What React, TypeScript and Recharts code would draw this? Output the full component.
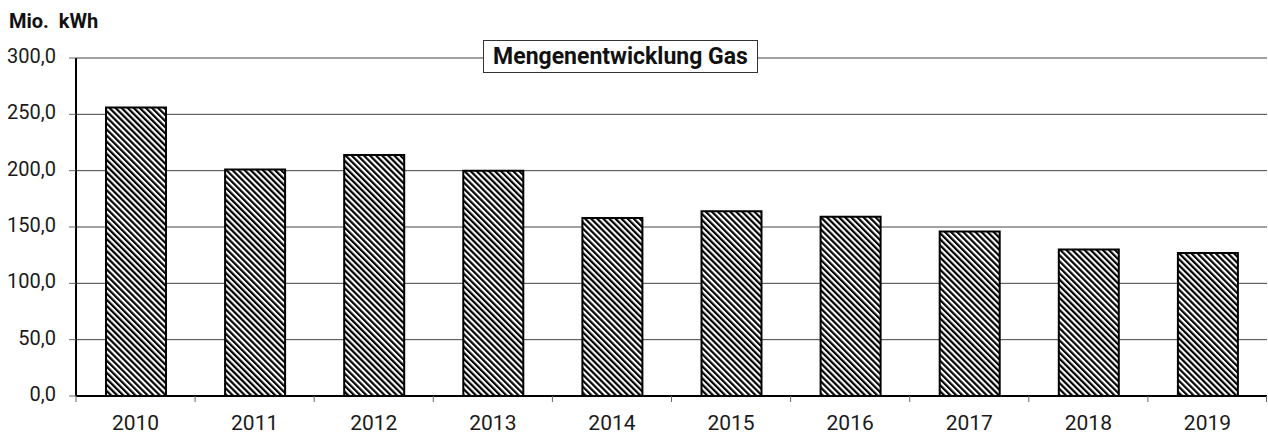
import React from 'react';
import { BarChart, Bar, XAxis, YAxis, CartesianGrid } from 'recharts';

const categories = ['2010', '2011', '2012', '2013', '2014', '2015', '2016', '2017', '2018', '2019'];
const gasValues = [256, 201, 214, 200, 158, 164, 159, 146, 130, 127];
const yTicks = [0, 50, 100, 150, 200, 250, 300];
const chartTitle = 'Mengenentwicklung Gas';
const unitLabel = 'Mio.  kWh';

const W = 1268;
const H = 436;
const MARGIN = { top: 58, right: 1, bottom: 0, left: 0 };
const Y_AXIS_W = 76;
const X_AXIS_H = 40;
const PLOT_W = W - MARGIN.left - MARGIN.right - Y_AXIS_W;
const BAND = PLOT_W / categories.length;
const FONT = 'Roboto, "Noto Sans", sans-serif';

const data = categories.map((year, i) => ({ year, value: gasValues[i] }));

const fmt = (v: number) => v.toFixed(1).replace('.', ',');

const XTick = (props: any) => {
  const { x, y, payload, index } = props;
  const left = x - BAND / 2;
  const right = x + BAND / 2;
  const isLast = index === categories.length - 1;
  return (
    <g>
      <line x1={left} x2={left} y1={y} y2={y + 6} stroke="#666" strokeWidth={1} />
      {isLast && <line x1={right - 0.5} x2={right - 0.5} y1={y} y2={y + 6} stroke="#666" strokeWidth={1} />}
      <text x={x} y={y + 34} textAnchor="middle" fill="#1a1a1a" fontSize={21} fontFamily={FONT}>
        {payload.value}
      </text>
    </g>
  );
};

export default function App() {
  return (
    <div style={{ position: 'absolute', left: 0, top: 0, width: W, height: H, background: '#fff', fontFamily: FONT }}>
      <div
        style={{
          position: 'absolute',
          left: 9,
          top: 9,
          fontSize: 20,
          lineHeight: 'normal',
          fontWeight: 700,
          color: '#111',
          whiteSpace: 'pre',
        }}
      >
        {unitLabel}
      </div>
      <BarChart width={W} height={H} data={data} margin={MARGIN}>
        <defs>
          <pattern id="hatch" width="4.3" height="4.3" patternUnits="userSpaceOnUse" patternTransform="rotate(-45)">
            <rect x="0" y="0" width="4.3" height="4.3" fill="#fff" />
            <rect x="0" y="0" width="2.2" height="4.3" fill="#000" />
          </pattern>
        </defs>
        <CartesianGrid vertical={false} stroke="#444" strokeWidth={1} />
        <XAxis
          dataKey="year"
          height={X_AXIS_H}
          tickLine={false}
          tickSize={0}
          tickMargin={0}
          axisLine={{ stroke: '#000', strokeWidth: 2 }}
          tick={<XTick />}
          interval={0}
        />
        <XAxis
          xAxisId="top"
          dataKey="year"
          orientation="top"
          height={0}
          tick={false}
          tickLine={false}
          axisLine={{ stroke: '#000', strokeWidth: 2 }}
        />
        <YAxis
          width={Y_AXIS_W}
          domain={[0, 300]}
          ticks={yTicks}
          tickFormatter={fmt}
          tickSize={7}
          tickMargin={13}
          tickLine={{ stroke: '#666' }}
          axisLine={{ stroke: '#000', strokeWidth: 2 }}
          tick={{ fill: '#1a1a1a', fontSize: 20, fontFamily: FONT, dy: -2 }}
          interval={0}
        />
        <YAxis
          yAxisId="right"
          orientation="right"
          width={0}
          domain={[0, 300]}
          tick={false}
          tickLine={false}
          axisLine={{ stroke: '#000', strokeWidth: 1 }}
        />
        <Bar dataKey="value" barSize={60} fill="url(#hatch)" stroke="#000" strokeWidth={2} isAnimationActive={false} />
      </BarChart>
      <div
        style={{
          position: 'absolute',
          left: 483,
          top: 40,
          width: 275,
          height: 33,
          boxSizing: 'border-box',
          border: '1px solid #333',
          background: '#fff',
          display: 'flex',
          alignItems: 'center',
          justifyContent: 'center',
          fontSize: 23,
          fontWeight: 700,
          color: '#111',
          whiteSpace: 'nowrap',
        }}
      >
        {chartTitle}
      </div>
    </div>
  );
}
